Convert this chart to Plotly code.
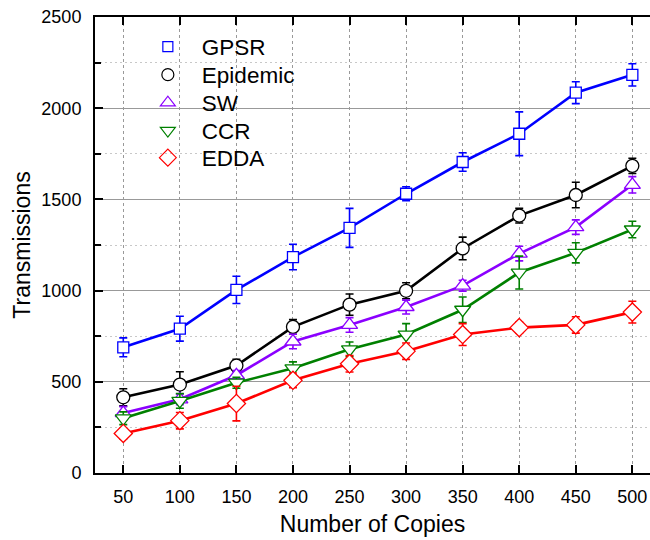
import plotly.graph_objects as go

copies = [50, 100, 150, 200, 250, 300, 350, 400, 450, 500]

gpsr = [689, 791, 1004, 1184, 1344, 1531, 1705, 1860, 2085, 2183]
gpsr_err = [52, 68, 75, 70, 107, 38, 51, 120, 60, 61]

epidemic = [415, 485, 589, 801, 923, 999, 1231, 1411, 1524, 1684]
epidemic_err = [47, 70, 34, 40, 58, 44, 62, 40, 70, 42]

sw = [329, 404, 536, 721, 812, 910, 1027, 1203, 1348, 1580]
sw_err = [35, 30, 25, 40, 40, 38, 30, 40, 40, 45]

ccr = [300, 395, 495, 574, 678, 759, 895, 1099, 1207, 1335]
ccr_err = [35, 40, 30, 35, 40, 60, 70, 90, 55, 45]

edda = [217, 287, 381, 508, 599, 668, 759, 797, 812, 882]
edda_err = [30, 45, 95, 40, 45, 45, 60, 30, 45, 60]

series = [
    ("GPSR", gpsr, gpsr_err, "#0000FF", "square-open", 11),
    ("Epidemic", epidemic, epidemic_err, "#000000", "circle-open", 13),
    ("SW", sw, sw_err, "#8B00FF", "triangle-up-open", 14),
    ("CCR", ccr, ccr_err, "#008000", "triangle-down-open", 14),
    ("EDDA", edda, edda_err, "#FF0000", "diamond-open", 14),
]

FONT = "Liberation Sans, Arial, sans-serif"
TOP, BOTTOM, H = 17, 67, 540
PLOT_H = H - TOP - BOTTOM

fig = go.Figure()
for name, vals, errs, color, symbol, size in series:
    fig.add_trace(go.Scatter(
        x=copies, y=vals, name=name, mode="lines+markers", showlegend=False,
        line=dict(color=color, width=2.6),
        marker=dict(symbol=symbol.replace("-open", ""), size=size, color="white",
                    line=dict(color=color, width=1.3)),
        error_y=dict(type="data", array=errs, visible=True, color=color,
                     thickness=1.6, width=4),
    ))

# one single-entry legend per series so the rows sit close together
legend_rows_px = [47, 75, 103, 131, 158]
legend_layout = {}
for i, (name, vals, errs, color, symbol, size) in enumerate(series):
    key = "legend" if i == 0 else f"legend{i + 1}"
    fig.add_trace(go.Scatter(
        x=[None], y=[None], name=name, mode="markers", legend=key,
        marker=dict(symbol=symbol, size=size - 1, color=color,
                    line=dict(color=color, width=1.2)),
    ))
    legend_layout[key] = dict(
        x=0.070, y=(H - BOTTOM - legend_rows_px[i]) / PLOT_H,
        xanchor="left", yanchor="middle",
        bgcolor="rgba(0,0,0,0)", borderwidth=0,
        font=dict(size=22.5, family=FONT), itemwidth=58,
    )

fig.update_layout(
    width=650, height=H,
    margin=dict(l=95, r=0, t=TOP, b=BOTTOM),
    paper_bgcolor="white", plot_bgcolor="white",
    font=dict(family=FONT, color="black", size=18),
    xaxis=dict(
        range=[25, 515.6], tickvals=copies, ticktext=[str(c) for c in copies],
        showline=True, linecolor="black", linewidth=2, mirror="allticks",
        ticks="inside", ticklen=8, tickwidth=2, tickcolor="black",
        showgrid=True, gridcolor="#999999", gridwidth=1, griddash="3px,3px",
        zeroline=False, ticklabelstandoff=6,
        title=dict(text="Number of Copies", font=dict(size=23), standoff=10),
    ),
    yaxis=dict(
        range=[0, 2500], dtick=500,
        showline=True, linecolor="black", linewidth=2, mirror=False,
        ticks="inside", ticklen=8, tickwidth=2, tickcolor="black",
        showgrid=True, gridcolor="#999999", gridwidth=1.2,
        zeroline=False, ticklabelstandoff=8,
        minor=dict(dtick=250, showgrid=True, gridcolor="#c8c8c8",
                   griddash="2px,3px", gridwidth=1,
                   ticks="inside", ticklen=6, tickwidth=2, tickcolor="black"),
        title=dict(text="Transmissions", font=dict(size=23), standoff=4),
    ),
    **legend_layout,
)

fig.write_html("out.html")
